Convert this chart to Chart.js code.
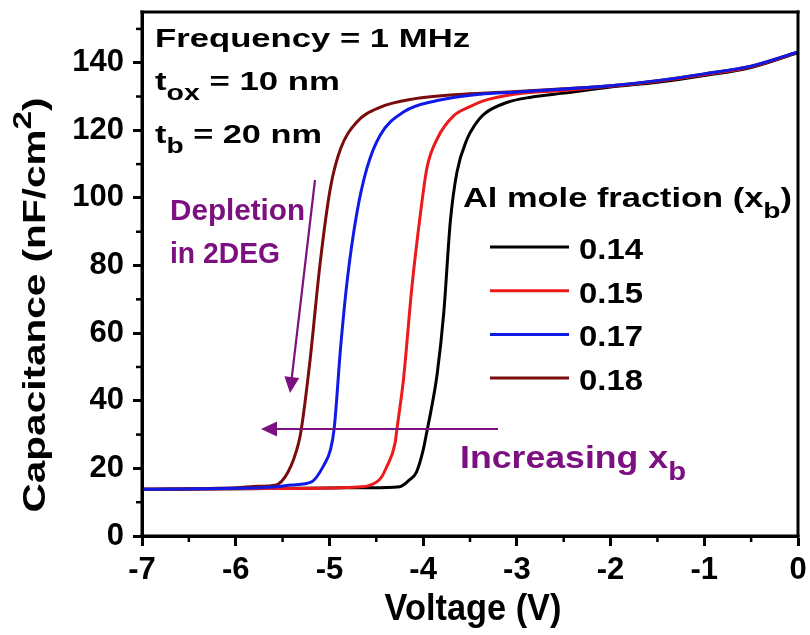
<!DOCTYPE html>
<html>
<head>
<meta charset="utf-8">
<script src="https://cdn.jsdelivr.net/npm/chart.js@4.4.1/dist/chart.umd.min.js"></script>
<style>
  html, body { margin: 0; padding: 0; background: #fff; }
  #cv { display: block; }
</style>
</head>
<body>
<canvas id="cv" width="810" height="635"></canvas>
<script>
// series labels + colours
const seriesNames = ["0.14", "0.15", "0.17", "0.18"];
const seriesColors = ["#000000", "#ec1a1a", "#0f1ae6", "#7a0c0c"];

// voltage (V) / capacitance (nF/cm2)
const v014 = [-7, -6, -5, -4.6, -4.25, -4.15, -4.07, -4.0, -3.955, -3.92, -3.85, -3.78, -3.71, -3.64, -3.53, -3.45, -3.35, -3.1, -2.85, -2.5, -2, -1.5, -1, -0.5, 0];
const c014 = [13.8, 14.0, 14.2, 14.3, 14.6, 16.5, 19.0, 25.4, 31.6, 36.5, 48, 66, 93, 107.5, 117.5, 121.5, 124.8, 128.3, 129.8, 131, 132.8, 134.2, 136.2, 138.6, 143];

const v015 = [-7, -6, -5, -4.7, -4.57, -4.45, -4.39, -4.3, -4.28, -4.21, -4.12, -4.03, -3.96, -3.85, -3.67, -3.5, -3.35, -3.03, -2.5, -2, -1.5, -1, -0.5, 0];
const c015 = [13.8, 14.0, 14.2, 14.5, 15.0, 17.2, 20.4, 27.4, 31.6, 46.3, 73.6, 95.1, 108.8, 117.5, 124.4, 127, 128.8, 130.7, 131.8, 133, 134.5, 136.4, 138.8, 143.1];

const v017 = [-7, -6, -5.6, -5.4, -5.19, -5.06, -4.99, -4.95, -4.88, -4.81, -4.71, -4.6, -4.46, -4.21, -3.85, -3.39, -3, -2.5, -2, -1.5, -1, -0.5, 0];
const c017 = [13.8, 14.1, 14.5, 15.1, 16.0, 20.9, 25.4, 31.6, 56, 75.6, 95.1, 108.8, 118.5, 125.4, 128.8, 130.7, 131.3, 132.2, 133.2, 134.7, 136.7, 139, 143.2];

const v018 = [-7, -6, -5.75, -5.58, -5.44, -5.33, -5.3, -5.21, -5.1, -4.99, -4.88, -4.71, -4.46, -4.1, -3.57, -3, -2.5, -2, -1.5, -1, -0.5, 0];
const c018 = [13.8, 14.3, 14.7, 15.0, 19.0, 27.4, 31.6, 51.2, 80.5, 102.9, 114.6, 122.4, 126.8, 129.3, 130.7, 131.5, 132.3, 133.2, 134.7, 136.7, 139, 143.2];

// axes
const xTicks = [-7, -6, -5, -4, -3, -2, -1, 0];
const xMinor = [-6.5, -5.5, -4.5, -3.5, -2.5, -1.5, -0.5];
const yTicks = [0, 20, 40, 60, 80, 100, 120, 140];
const yMinor = [10, 30, 50, 70, 90, 110, 130, 150];

const FONT = "Arial, 'Liberation Sans', Helvetica, sans-serif";
const PURPLE = "#7c1080";

function pts(vs, cs) {
  return vs.map((v, i) => ({ x: v, y: cs[i] }));
}
const allV = [v014, v015, v017, v018];
const allC = [c014, c015, c017, c018];
const drawOrder = [3, 2, 0, 1]; // blue on top, like the figure

// text run helper: runs = [[text, kind]], kind '' | 'sub' | 'sup'
function runs(ctx, list, x, y, size, width, color, align) {
  ctx.save();
  ctx.fillStyle = color || "#000";
  ctx.textBaseline = "alphabetic";
  ctx.textAlign = "left";
  let nat = 0;
  list.forEach((r) => {
    const s = r[1] ? size * 0.82 : size;
    ctx.font = "bold " + s + "px " + FONT;
    nat += ctx.measureText(r[0]).width;
  });
  const sx = width ? width / nat : 1;
  const w = nat * sx;
  let x0 = x;
  if (align === "center") x0 = x - w / 2;
  ctx.translate(x0, y);
  ctx.scale(sx, 1);
  let cx = 0;
  list.forEach((r) => {
    const s = r[1] ? size * 0.82 : size;
    ctx.font = "bold " + s + "px " + FONT;
    let dy = 0;
    if (r[1] === "sub") dy = size * 0.38;
    if (r[1] === "sup") dy = -size * 0.45;
    ctx.fillText(r[0], cx, dy);
    cx += ctx.measureText(r[0]).width;
  });
  ctx.restore();
}

function arrow(ctx, x1, y1, x2, y2) {
  const a = Math.atan2(y2 - y1, x2 - x1);
  const L = 16, H = 7.5;
  ctx.save();
  ctx.strokeStyle = PURPLE;
  ctx.fillStyle = PURPLE;
  ctx.lineWidth = 2.2;
  ctx.beginPath();
  ctx.moveTo(x1, y1);
  ctx.lineTo(x2 - Math.cos(a) * (L - 2), y2 - Math.sin(a) * (L - 2));
  ctx.stroke();
  ctx.beginPath();
  ctx.moveTo(x2, y2);
  ctx.lineTo(x2 - L * Math.cos(a) + H * Math.sin(a), y2 - L * Math.sin(a) - H * Math.cos(a));
  ctx.lineTo(x2 - L * Math.cos(a) - H * Math.sin(a), y2 - L * Math.sin(a) + H * Math.cos(a));
  ctx.closePath();
  ctx.fill();
  ctx.restore();
}

const decor = {
  id: "decor",
  afterDraw(chart) {
    const ctx = chart.ctx;
    const a = chart.chartArea;
    const sx = chart.scales.x, sy = chart.scales.y;
    const L = Math.round(a.left), R = Math.round(a.right);
    const T = Math.round(a.top), B = Math.round(a.bottom);

    // frame (filled bars, 3px)
    ctx.save();
    ctx.fillStyle = "#000000";
    ctx.fillRect(L - 1.5, T - 1.5, R - L + 3, 3);
    ctx.fillRect(L - 1.5, B - 1.5, R - L + 3, 3);
    ctx.fillRect(L - 1.5, T - 1.5, 3, B - T + 3);
    ctx.fillRect(R - 1.5, T - 1.5, 3, B - T + 3);

    // minor ticks
    xMinor.forEach((v) => {
      const px = sx.getPixelForValue(v);
      ctx.fillRect(px - 1.25, B, 2.5, 6);
    });
    yMinor.forEach((v) => {
      const py = sy.getPixelForValue(v);
      ctx.fillRect(L - 6, py - 1.25, 6, 2.5);
    });
    ctx.restore();

    // axis titles
    runs(ctx, [["Voltage (V)", ""]], 473, 620, 37, 177, "#000", "center");
    ctx.save();
    ctx.translate(45, 305);
    ctx.rotate(-Math.PI / 2);
    runs(ctx, [["Capacitance (nF/cm", ""], ["2", "sup"], [")", ""]], 0, 0, 32, 415, "#000", "center");
    ctx.restore();

    // parameters
    runs(ctx, [["Frequency = 1 MHz", ""]], 155, 47, 26, 315);
    runs(ctx, [["t", ""], ["ox", "sub"], [" = 10 nm", ""]], 155, 90, 26, 185);
    runs(ctx, [["t", ""], ["b", "sub"], [" = 20 nm", ""]], 155, 143, 26, 167);

    // purple notes
    runs(ctx, [["Depletion", ""]], 170, 220, 30, 135, PURPLE);
    runs(ctx, [["in 2DEG", ""]], 170, 263, 30, 110, PURPLE);
    runs(ctx, [["Increasing x", ""], ["b", "sub"]], 460, 468, 32, 226, PURPLE);
    arrow(ctx, 315, 180, 290, 393);
    arrow(ctx, 498, 429, 261, 429);

    // legend
    runs(ctx, [["Al mole fraction (x", ""], ["b", "sub"], [")", ""]], 463, 207, 28, 329);
    chart.data.datasets.forEach((ds, i) => {
      const ly = 247 + i * 43.7;
      ctx.save();
      ctx.strokeStyle = ds.borderColor;
      ctx.lineWidth = 3;
      ctx.beginPath();
      ctx.moveTo(490, ly);
      ctx.lineTo(569, ly);
      ctx.stroke();
      ctx.restore();
      runs(ctx, [[ds.label, ""]], 579, ly + 12, 29.5, 64);
    });
  },
};

const datasets = seriesNames.map((name, i) => ({
  label: name,
  data: pts(allV[i], allC[i]),
  borderColor: seriesColors[i],
  backgroundColor: seriesColors[i],
  borderWidth: 3,
  pointRadius: 0,
  fill: false,
  cubicInterpolationMode: "monotone",
  order: drawOrder[i],
}));

new Chart(document.getElementById("cv"), {
  type: "line",
  data: { datasets: datasets },
  options: {
    responsive: false,
    animation: false,
    devicePixelRatio: 1,
    layout: { padding: { top: 12, right: 12, left: 0, bottom: 0 } },
    plugins: { legend: { display: false }, tooltip: { enabled: false } },
    scales: {
      x: {
        type: "linear",
        min: -7,
        max: 0,
        afterBuildTicks: (s) => { s.ticks = xTicks.map((v) => ({ value: v })); },
        afterFit: (s) => { s.height = 99; s.paddingLeft = 0; s.paddingRight = 0; },
        border: { display: true, color: "#000", width: 3 },
        grid: { drawOnChartArea: false, drawTicks: true, tickLength: 10, tickWidth: 3, tickColor: "#000" },
        ticks: { color: "#000", padding: 6, maxRotation: 0, font: { family: FONT, size: 31, weight: "bold" } },
      },
      y: {
        type: "linear",
        min: 0,
        max: 155,
        afterBuildTicks: (s) => { s.ticks = yTicks.map((v) => ({ value: v })); },
        afterFit: (s) => { s.width = 142; s.paddingTop = 0; s.paddingBottom = 0; },
        border: { display: true, color: "#000", width: 3 },
        grid: { drawOnChartArea: false, drawTicks: true, tickLength: 9, tickWidth: 3, tickColor: "#000" },
        ticks: { color: "#000", padding: 9, font: { family: FONT, size: 31, weight: "bold" } },
      },
    },
  },
  plugins: [decor],
});
</script>
</body>
</html>
